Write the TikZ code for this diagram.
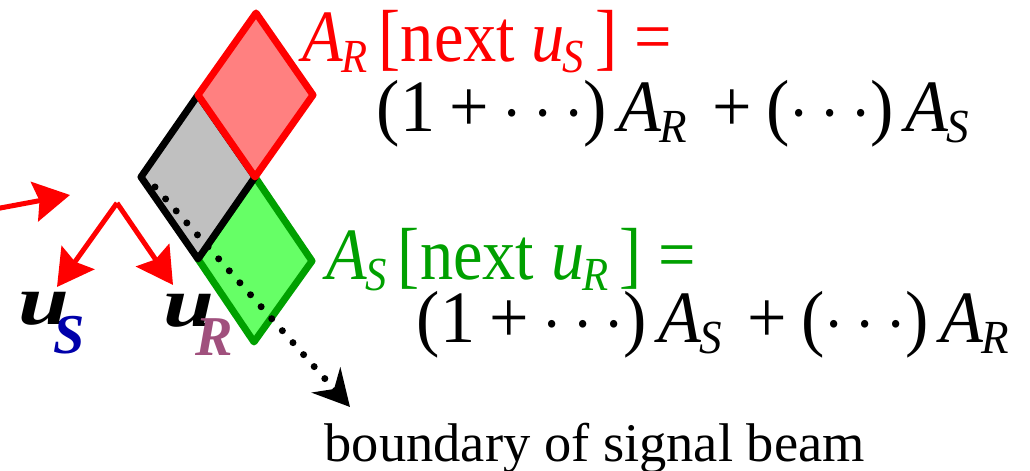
\documentclass[tikz,border=0pt]{standalone}
\usepackage{graphicx}
\usepackage{fontspec}
\setmainfont{Liberation Serif}
\usetikzlibrary{arrows.meta}

\definecolor{ampred}{RGB}{255,0,0}
\definecolor{ampredfill}{RGB}{255,128,128}
\definecolor{ampgreen}{RGB}{0,160,0}
\definecolor{ampgreenfill}{RGB}{102,255,102}
\definecolor{overlap}{RGB}{192,192,192}
\definecolor{sblue}{RGB}{0,0,170}
\definecolor{rmauve}{RGB}{160,80,125}

% italic letter with a lowered italic index
\newcommand{\isub}[2]{\textit{#1}\kern-0.03em\raisebox{-0.14em}{\fontsize{13.5}{15}\selectfont\textit{#2}}}
\newcommand{\bop}{\hspace{0.2em}+\hspace{0.2em}}
\newcommand{\narrow}[2][0.9]{\scalebox{#1}[1]{#2}}
\newcommand{\bvec}[3]{\scalebox{1.3}[1]{u}\kern#3\raisebox{-8pt}{\fontsize{16}{18}\selectfont\color{#2}#1}}

\begin{document}
\begin{tikzpicture}[>=Latex]
  \tikzset{
    cell/.style={line width=0.07cm,line join=round},
    beam/.style={red,line width=0.05cm,
      -{Stealth[length=0.36cm,width=0.40cm,inset=0.05cm]}},
    edge/.style={line width=0.07cm,line cap=round,dash pattern=on 0pt off 0.16cm,
      -{Stealth[length=0.36cm,width=0.38cm,inset=0.12cm]}},
    eq/.style={anchor=base west,inner sep=0pt,font=\fontsize{21}{25}\selectfont},
    vec/.style={anchor=base west,inner sep=0pt,font=\fontsize{20}{24}\selectfont\bfseries\itshape}
  }
  \useasboundingbox (0,0) rectangle (10.30,4.71);

  % the three cells
  \coordinate (c) at (2.55,2.94);
  \coordinate (rtop) at (2.56,4.58);
  \coordinate (rright) at (3.13,3.76);
  \coordinate (rleft) at (1.98,3.76);
  \coordinate (gleft) at (1.41,2.94);
  \coordinate (gbot) at (1.98,2.12);
  \coordinate (sright) at (3.12,2.10);
  \coordinate (sbot) at (2.54,1.29);

  \draw[cell,draw=ampgreen,fill=ampgreenfill]
    (c) -- (sright) -- (sbot) -- (gbot) -- cycle;
  \draw[cell,draw=black,fill=overlap]
    (c) -- (rleft) -- (gleft) -- (gbot) -- cycle;
  \draw[cell,draw=ampred,fill=ampredfill]
    (rtop) -- (rright) -- (c) -- (rleft) -- cycle;

  % signal beam boundary
  \coordinate (bstart) at (1.55,2.84);
  \coordinate (btip) at (3.50,0.64);
  \draw[edge] (bstart) -- (btip);

  % incoming and outgoing directions
  \coordinate (kin) at (-0.05,2.62);
  \coordinate (ktip) at (0.70,2.76);
  \draw[beam] (kin) -- (ktip);
  \coordinate (apex) at (1.17,2.68);
  \coordinate (stip) at (0.57,1.84);
  \coordinate (rtip) at (1.73,1.86);
  \draw[beam] (apex) -- (stip);
  \draw[beam] (apex) -- (rtip);

  \node[vec] (us) at (0.18,1.46) {\bvec{S}{sblue}{-4.5pt}};
  \node[vec] (ur) at (1.63,1.44) {\bvec{R}{rmauve}{-5.5pt}};

  % update rules
  \node[eq,text=ampred] (ar) at (3.02,4.09)
    {\narrow{\isub{A}{R}\,[next \isub{u}{S}\,] =}};
  \node[eq] (arsum) at (3.76,3.39)
    {\narrow[0.95]{(1\bop$\cdots$)\,\isub{A}{R}\,\bop($\cdots$)\,\isub{A}{S}}};
  \node[eq,text=ampgreen] (as) at (3.26,1.91)
    {\narrow{\isub{A}{S}\,[next \isub{u}{R}\,] =}};
  \node[eq] (assum) at (4.16,1.28)
    {\narrow[0.95]{(1\bop$\cdots$)\,\isub{A}{S}\,\bop($\cdots$)\,\isub{A}{R}}};
  \node[anchor=base west,inner sep=0pt,font=\fontsize{15.5}{18}\selectfont]
    (blabel) at (3.24,0.09) {boundary of signal beam};
\end{tikzpicture}
\end{document}
